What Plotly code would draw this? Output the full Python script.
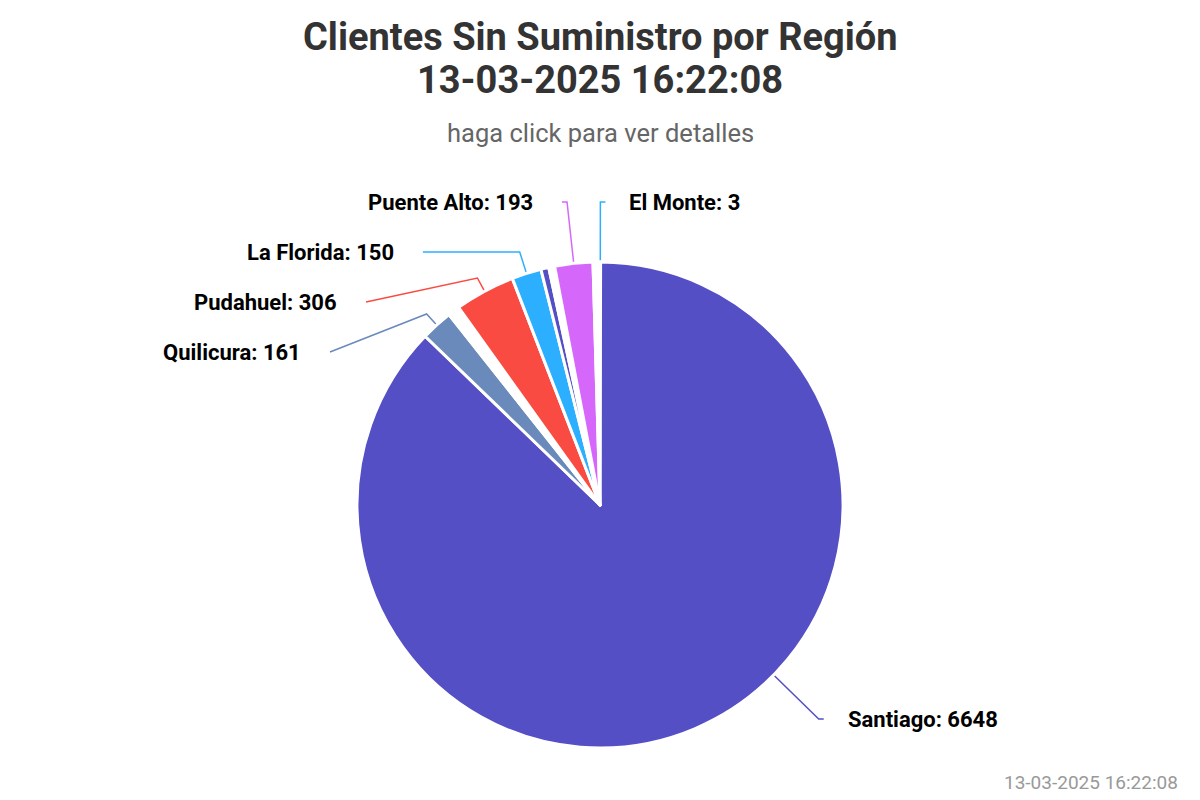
import math
import plotly.graph_objects as go

# datos, en orden horario desde las 12
regiones = ["El Monte", "Santiago", "Quilicura", "Otra 1", "Pudahuel", "La Florida",
            "Otra 2", "Otra 3", "Puente Alto", "Otra 4"]
clientes = [3, 6648, 161, 60, 306, 150, 40, 30, 193, 35]
colores = ["#2caffe", "#544fc5", "#6b8abc", "#ffffff", "#fa4b42", "#2caffe",
           "#544fc5", "#ffffff", "#d568fb", "#ffffff"]
con_etiqueta = [True, True, True, False, True, True, False, False, True, False]

titulo = "Clientes Sin Suministro por Región"
fecha = "13-03-2025 16:22:08"
subtitulo = "haga click para ver detalles"

W, H = 1200, 800
cx, cy, r = 600, 505, 243
R = r + 63                      # radio de las etiquetas
top_y, bot_y, paso = 202, 719, 50

total = sum(clientes)
ang = []
acc = 0
for v in clientes:
    ang.append((acc / total * 360, (acc + v) / total * 360))
    acc += v


def punto(a, rad):
    t = math.radians(a)
    return cx + rad * math.sin(t), cy - rad * math.cos(t)


etiquetas = []
for i, (a0, a1) in enumerate(ang):
    if not con_etiqueta[i]:
        continue
    mid = (a0 + a1) / 2
    lado = 1 if mid < 180 else -1
    nx, ny = punto(mid, R)
    etiquetas.append({"i": i, "mid": mid, "lado": lado, "nx": nx, "ny": ny, "y": ny})

# repartir etiquetas en cada mitad
for lado in (1, -1):
    grupo = sorted([e for e in etiquetas if e["lado"] == lado], key=lambda e: e["y"])
    for k, e in enumerate(grupo):
        e["y"] = min(max(e["y"], top_y), bot_y)
        if k:
            e["y"] = max(e["y"], grupo[k - 1]["y"] + paso)
    grupo[-1]["y"] = min(grupo[-1]["y"], bot_y)
    for k in range(len(grupo) - 2, -1, -1):
        grupo[k]["y"] = min(grupo[k]["y"], grupo[k + 1]["y"] - paso)

fig = go.Figure()

fig.add_trace(go.Pie(
    labels=regiones, values=clientes, sort=False, direction="clockwise", rotation=0,
    marker=dict(colors=colores, line=dict(color="#ffffff", width=3)),
    textinfo="none", hovertemplate="%{label}: %{value}<extra></extra>",
    domain=dict(x=[(cx - r) / W, (cx + r) / W], y=[1 - (cy + r) / H, 1 - (cy - r) / H]),
))

anotaciones = []
for e in etiquetas:
    i, lado, y = e["i"], e["lado"], e["y"]
    a0, a1 = ang[i]
    if e["ny"] < top_y:
        xl = e["nx"] + lado * 5
    else:
        dy = y - cy
        xl = cx + lado * (math.sqrt(max(R * R - dy * dy, 0)) + 5)
    toque = e["mid"]
    if e["ny"] > bot_y:
        # etiqueta subida: el conector toca donde cae la etiqueta
        a_lbl = math.degrees(math.acos(max(-1, min(1, (cy - y) / R))))
        if lado < 0:
            a_lbl = 360 - a_lbl
        if a0 <= a_lbl <= a1:
            toque = a_lbl
    tx, ty = punto(toque, r)
    bx, by = punto(toque, r + 15)
    xs, ys = [xl], [y]
    kx = cx + (cy - y) * math.tan(math.radians(toque))
    if (lado > 0 and bx <= kx <= xl) or (lado < 0 and xl <= kx <= bx):
        xs.append(kx)
        ys.append(y)
    xs += [bx, tx]
    ys += [by, ty]
    fig.add_trace(go.Scatter(x=xs, y=ys, mode="lines", hoverinfo="skip",
                             line=dict(color=colores[i], width=1.5)))
    anotaciones.append(dict(
        x=xl + (22 if lado > 0 else -27), y=y, xref="x", yref="y", showarrow=False,
        xanchor="left" if lado > 0 else "right", yanchor="middle",
        text=f"<b>{regiones[i]}: {clientes[i]}</b>",
        font=dict(family="Roboto", size=22, color="#000000"),
    ))

anotaciones += [
    dict(x=W / 2, y=37, xref="x", yref="y", showarrow=False, yanchor="middle",
         text=f"<b>{titulo}</b>",
         font=dict(family="Roboto", size=38, color="#333333")),
    dict(x=W / 2, y=80, xref="x", yref="y", showarrow=False, yanchor="middle",
         text=f"<b>{fecha}</b>",
         font=dict(family="Roboto", size=38, color="#333333")),
    dict(x=W / 2, y=133, xref="x", yref="y", showarrow=False, yanchor="middle",
         text=subtitulo, font=dict(family="Roboto", size=25.5, color="#666666")),
    dict(x=1180, y=782, xref="x", yref="y", showarrow=False, xanchor="right",
         yanchor="middle", text=fecha,
         font=dict(family="Roboto", size=19, color="#999999")),
]

fig.update_layout(
    width=W, height=H, showlegend=False,
    margin=dict(l=0, r=0, t=0, b=0),
    paper_bgcolor="#ffffff", plot_bgcolor="#ffffff",
    xaxis=dict(range=[0, W], visible=False, fixedrange=True),
    yaxis=dict(range=[H, 0], visible=False, fixedrange=True),
    annotations=anotaciones,
)

fig.write_html("out.html", config={"displayModeBar": False},
               post_script="document.body.style.margin = '0px';")
